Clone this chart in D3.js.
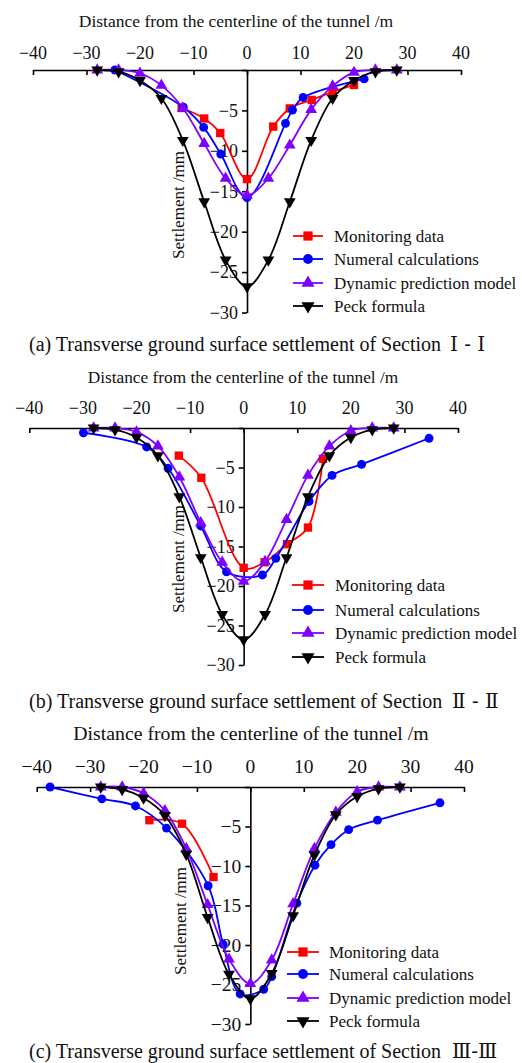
<!DOCTYPE html>
<html><head><meta charset="utf-8">
<script src="https://cdn.jsdelivr.net/npm/d3@7"></script>
<style>body{margin:0;background:#fff}svg{display:block}text{font-family:"Liberation Serif","Times New Roman",serif;fill:#111}</style>
</head><body><svg id="c" width="522" height="1063"></svg>
<script>
const xTicks = [-40,-30,-20,-10,0,10,20,30,40];
const yTicks = [-5,-10,-15,-20,-25,-30];
const seriesNames = ["Monitoring data","Numeral calculations","Dynamic prediction model","Peck formula"];
const xTitle = "Distance from the centerline of the tunnel /m";
const yTitle = "Settlement /mm";
const captionText = ["(a) Transverse ground surface settlement of Section","(b) Transverse ground surface settlement of Section","(c) Transverse ground surface settlement of Section"];
const captionSection = ["\u2160 - \u2160","\u2161 - \u2161","\u2162-\u2162"];

const p1Monitoring = [[-12.2,-4.7],[-8,-6.0],[-5,-7.8],[0,-13.5],[4.9,-7.0],[8,-4.75],[12.1,-3.7],[16,-2.7],[20,-1.85]];
const p1Numerical = [[-24.7,0],[-11.9,-4.6],[-8.1,-7.1],[-4.9,-10.4],[0,-15.8],[7.2,-6.6],[8.5,-4.95],[10.5,-3.4],[21.9,-1.1]];
const p1Dynamic = [[-28,0],[-24,0],[-20,-0.4],[-16,-1.9],[-12,-4.7],[-8,-9.1],[-4,-13.4],[0,-15.5],[4,-13.4],[8,-9.3],[12,-4.9],[16,-2.0],[20,-0.3],[24,0],[28,0]];
const p1Peck = [[-28,0],[-24,-0.2],[-20,-1.3],[-16,-3.5],[-12,-8.7],[-8,-16.3],[-4,-23.5],[0,-26.8],[4,-23.5],[8,-16.3],[12,-8.7],[16,-3.5],[20,-1.3],[24,-0.2],[28,0]];

const p2Monitoring = [[-12.1,-3.5],[-7.9,-6.3],[0,-17.7],[3.9,-17.0],[8.1,-14.7],[12,-12.6],[14.8,-3.9]];
const p2Numerical = [[-29.9,-0.6],[-18.1,-2.4],[-14.1,-5.1],[-8,-12.4],[-3.2,-18.2],[3.5,-18.6],[6,-16.5],[12.2,-9.3],[16.5,-6.0],[22,-4.6],[34.6,-1.3]];
const p2Dynamic = [[-28,0],[-24,0],[-20,-0.5],[-16,-2.3],[-12,-6.2],[-8,-12.0],[-4,-17.0],[0,-19.4],[4,-16.9],[8,-11.6],[12,-6.0],[16,-2.3],[20,-0.35],[24,0],[28,0]];
const p2Peck = [[-28,0],[-24,-0.2],[-20,-1.2],[-16,-3.5],[-12,-8.7],[-8,-16.4],[-4,-23.6],[0,-26.8],[4,-23.6],[8,-16.4],[12,-8.7],[16,-3.5],[20,-1.2],[24,-0.2],[28,0]];

const p3Monitoring = [[-18.9,-4.2],[-12.8,-4.65],[-6.9,-11.4]];
const p3Numerical = [[-37.5,0],[-27.8,-1.5],[-21.5,-2.4],[-15.7,-5.2],[-7.9,-12.5],[-5.1,-19.9],[-1.9,-26.2],[2.5,-25.6],[4,-24],[8.7,-14.7],[12.1,-9.9],[15.1,-7.3],[18.4,-5.4],[23.8,-4.2],[35.5,-2.0]];
const p3Dynamic = [[-28,0],[-24,0],[-20,-0.8],[-16,-3.0],[-12,-7.8],[-8,-14.9],[-4,-21.8],[0,-24.9],[4,-21.9],[8,-14.8],[12,-7.8],[16,-3.2],[20,-0.6],[24,0],[28,0]];
const p3Peck = [[-28,0],[-24,-0.3],[-20,-1.4],[-16,-3.6],[-12,-8.5],[-8,-16.5],[-4,-23.7],[0,-26.8],[4,-23.6],[8,-16.3],[12,-8.6],[16,-3.5],[20,-1.2],[24,-0.2],[28,0]];

const colors = ["#ff0000","#0000ff","#8000ff","#000000"];
const symbols = [d3.symbolSquare, d3.symbolCircle, d3.symbolTriangle, d3.symbolTriangle];
const symSizes = [70, 62, 60, 60];
const symRot = [0,0,0,180];

const panels = [
  {data:[p1Monitoring,p1Numerical,p1Dynamic,p1Peck], xr:[33,461], yr:[70,312.5], tick:18, titleY:27, titleX:236, titleSize:17.5,
   ylab:[178,205], leg:{x0:293,x1:323,tx:334,ys:[236,259,283,306]}, cap:351, capSecX:450, labGap:11},
  {data:[p2Monitoring,p2Numerical,p2Dynamic,p2Peck], xr:[29.3,458], yr:[428,665], tick:18, titleY:383, titleX:243, titleSize:17.3,
   ylab:[178,559], leg:{x0:292,x1:324,tx:335,ys:[585,610,633,657]}, cap:708, capSecX:452, labGap:14},
  {data:[p3Monitoring,p3Numerical,p3Dynamic,p3Peck], xr:[36.7,464], yr:[787,1024], tick:19.5, titleY:740, titleX:251, titleSize:19.8,
   ylab:[180,921], leg:{x0:287,x1:319,tx:329,ys:[952,974,998,1021]}, cap:1058, capSecX:452, labGap:14}
];

const svg = d3.select("#c");
const fmt = d => d < 0 ? "\u2212" + Math.abs(d) : String(d);

panels.forEach((p, i) => {
  const g = svg.append("g");
  const x = d3.scaleLinear().domain([-40,40]).range(p.xr);
  const y = d3.scaleLinear().domain([0,-30]).range(p.yr);

  const xa = g.append("g").attr("transform", `translate(0,${y(0)})`)
    .call(d3.axisBottom(x).tickValues(xTicks).tickSize(5).tickSizeOuter(0).tickFormat(""));
  xa.select(".domain").attr("stroke","#000").attr("stroke-width",1.6);
  xa.selectAll(".tick line").attr("stroke","#000").attr("stroke-width",1.6);
  g.selectAll(".xl").data(xTicks).enter().append("text")
    .attr("x", d => x(d)).attr("y", y(0) - p.labGap)
    .attr("text-anchor","middle").attr("font-size", p.tick).text(fmt);

  const ya = g.append("g").attr("transform", `translate(${x(0)},0)`)
    .call(d3.axisLeft(y).tickValues([0].concat(yTicks)).tickSize(5).tickSizeOuter(0).tickFormat(""));
  ya.select(".domain").attr("stroke","#000").attr("stroke-width",1.6);
  ya.selectAll(".tick line").attr("stroke","#000").attr("stroke-width",1.6);
  g.selectAll(".yl").data(yTicks).enter().append("text")
    .attr("x", x(0) - 9).attr("y", d => y(d)).attr("dy","0.35em")
    .attr("text-anchor","end").attr("font-size", p.tick).text(fmt);

  g.append("text").attr("x", p.titleX).attr("y", p.titleY).attr("text-anchor","middle")
    .attr("font-size", p.titleSize).text(xTitle);
  g.append("text").attr("transform", `translate(${p.ylab[0]},${p.ylab[1]}) rotate(-90)`)
    .attr("text-anchor","middle").attr("dy","0.35em").attr("font-size",17).text(yTitle);

  const line = d3.line().x(d => x(d[0])).y(d => y(d[1])).curve(d3.curveCatmullRom.alpha(0.5));
  p.data.forEach((s, k) => {
    g.append("path").attr("d", line(s)).attr("fill","none").attr("stroke", colors[k]).attr("stroke-width",1.8);
    g.selectAll(".m"+k).data(s).enter().append("path")
      .attr("d", d3.symbol().type(symbols[k]).size(symSizes[k]))
      .attr("transform", d => `translate(${x(d[0])},${y(d[1])}) rotate(${symRot[k]})`)
      .attr("fill", colors[k]);
  });

  seriesNames.forEach((name, k) => {
    const ly = p.leg.ys[k];
    g.append("line").attr("x1", p.leg.x0).attr("x2", p.leg.x1).attr("y1", ly).attr("y2", ly)
      .attr("stroke", colors[k]).attr("stroke-width",1.8);
    g.append("path").attr("d", d3.symbol().type(symbols[k]).size(symSizes[k]+15)())
      .attr("transform", `translate(${(p.leg.x0+p.leg.x1)/2},${ly}) rotate(${symRot[k]})`).attr("fill", colors[k]);
    g.append("text").attr("x", p.leg.tx).attr("y", ly).attr("dy","0.35em").attr("font-size",17).text(name);
  });

  g.append("text").attr("x", 29).attr("y", p.cap).attr("font-size",20).text(captionText[i]);
  g.append("text").attr("x", p.capSecX).attr("y", p.cap).attr("font-size",20)
    .style("font-family","'DejaVu Serif','Noto Sans CJK SC',serif").text(captionSection[i]);
});
</script></body></html>
